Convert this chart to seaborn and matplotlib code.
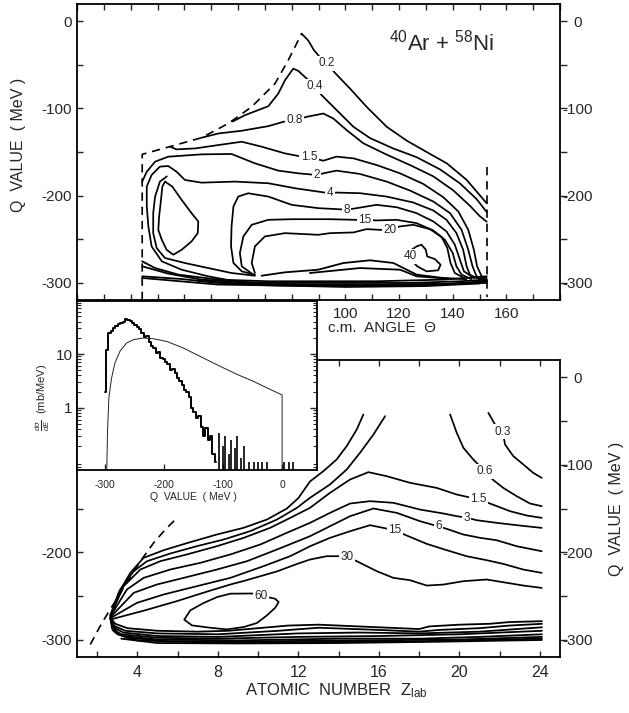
import numpy as np
import pandas as pd
import matplotlib
matplotlib.use("Agg")
import matplotlib.pyplot as plt
import seaborn as sns
from matplotlib.ticker import FixedLocator, FixedFormatter, NullFormatter

# ============ TOP PANEL: c.m. angle theta [deg] vs Q value [MeV] ============
TOP_BOUND_TH = [24.3, 24.3, 35.3, 46.4, 56.4, 65.1, 73.8, 78.7, 83.7]
TOP_BOUND_Q = [-320, -152.7, -143.2, -133.6, -117.2, -98.1, -71.4, -44.7, -14.1]
TOP_LIMIT_TH = [152.7, 152.7]
TOP_LIMIT_Q = [-167, -316]

T02_TH = [83.7, 86.2, 88.3, 90.5, 93.0, 96.1, 101.7, 107.9, 115.4, 122.9, 130.3, 137.8, 145.2, 150.2, 152.7]
T02_Q = [-14, -22, -33, -41, -48, -59, -77, -98, -121, -137, -150, -163, -182, -200, -209]
T04_TH = [58.0, 62.6, 71.3, 75.0, 77.5, 80.6, 82.5, 85.6, 88.7, 91.2, 96.8, 103.0, 109.2, 117.9, 126.6, 135.3, 142.7, 148.9, 152.7]
T04_Q = [-115, -107.7, -97.4, -82.9, -67.6, -54.2, -56.9, -65.7, -74.5, -84.8, -102, -121, -134, -146, -156, -170, -186, -204, -219]
T08_TH = [46.4, 52.7, 61.4, 71.3, 76.9, 81.2, 85.6, 88.7, 91.8, 95.5, 100.5, 106.7, 115.4, 124.1, 132.8, 140.2, 146.5, 150.2, 152.7]
T08_Q = [-133.6, -128.7, -125.6, -120.3, -115.3, -113.4, -109.6, -107.7, -105.8, -111.5, -124.9, -140, -153, -165, -178, -194, -212, -224, -230]
T1P5_TH = [34.7, 37.1, 44.0, 52.7, 61.4, 68.8, 77.5, 82.5, 86.5, 91.8, 96.7, 103.0, 111.6, 120.3, 129.0, 136.5, 142.1, 145.8, 147.9, 149.1, 150.8, 152.7]
T1P5_Q = [-143.9, -147.0, -145.9, -142.0, -138.2, -143.9, -151.6, -154.6, -156.0, -160.0, -155.3, -157.3, -164.9, -174.4, -186.6, -201.9, -218.3, -239.3, -262.2, -281.3, -292.8, -295.0]
T2_TH = [24.3, 26.0, 29.1, 34.0, 46.4, 57.6, 66.3, 75.0, 82.5, 89.3, 91.8, 96.7, 105.4, 115.4, 124.1, 132.8, 139.0, 143.3, 145.8, 147.4, 148.9, 152.7]
T2_Q = [-184.0, -172.6, -161.1, -155.4, -152.7, -152.3, -163.0, -171.4, -174.5, -176.4, -174.5, -171.4, -175.2, -184.0, -194.3, -206.9, -220.2, -239.3, -262.2, -281.3, -292.8, -297.0]
T4_TH = [68.8, 58.9, 48.9, 39.0, 31.6, 27.8, 26.6, 26.0, 26.0, 27.8, 30.9, 34.0, 37.1, 40.2, 46.4, 58.9, 71.3, 81.2, 89.9, 94.3, 96.7, 105.4, 115.4, 125.3, 132.8, 137.7, 141.4, 143.9, 145.2, 146.4, 149.0, 152.7]
T4_Q = [-300.4, -298.5, -292.8, -285.2, -275.6, -258.4, -235.5, -212.6, -189.7, -176.4, -166.8, -166.1, -172.6, -182.1, -185.2, -184.0, -185.9, -191.6, -195.5, -197.4, -196.6, -197.3, -201.2, -208.0, -217.2, -227.9, -243.1, -262.2, -281.3, -290.9, -295.0, -298.0]
T8_TH = [66.3, 61.4, 58.3, 57.4, 57.6, 58.3, 60.1, 63.8, 71.3, 80.0, 89.9, 97.4, 100.5, 104.2, 111.6, 119.1, 126.5, 132.8, 137.7, 140.8, 142.7, 144.2, 148.0]
T8_Q = [-291.0, -287.1, -277.5, -258.4, -235.5, -212.6, -201.2, -197.4, -201.2, -210.7, -214.5, -215.7, -216.4, -214.5, -210.7, -213.4, -220.2, -229.8, -241.2, -256.5, -273.7, -287.0, -295.0]
T15_TH = [65.7, 61.4, 60.7, 62.0, 65.1, 71.3, 80.0, 89.9, 94.3, 103.6, 107.3, 111.6, 119.1, 126.5, 132.8, 137.1, 140.0, 141.4, 143.3, 147.0]
T15_Q = [-290.9, -281.3, -266.0, -247.0, -233.6, -227.9, -227.2, -227.2, -227.2, -227.9, -228.0, -228.6, -227.9, -231.7, -240.1, -250.8, -266.0, -281.3, -290.9, -296.0]
T20_TH = [66.3, 65.1, 66.3, 70.0, 77.5, 89.9, 94.3, 103.0, 107.9, 112.9, 116.6, 120.3, 125.3, 131.5, 135.9, 138.0, 139.2, 140.8, 145.0]
T20_Q = [-289.0, -277.5, -258.4, -247.0, -243.2, -245.1, -243.2, -242.4, -238.6, -239.4, -239.4, -235.5, -233.6, -238.6, -247.7, -260.3, -277.5, -289.0, -296.0]
T40_TH = [124.3, 124.8, 126.6, 128.4, 130.0, 130.5, 133.4, 135.5, 134.6, 130.3, 126.8, 125.2, 124.3]
T40_Q = [-270.0, -262.0, -258.4, -256.5, -262.3, -269.9, -273.0, -279.5, -285.9, -287.1, -281.3, -276.0, -270.0]
TI8_TH = [33.5, 30.9, 29.1, 28.4, 28.4, 29.7, 32.8, 40.2, 48.9, 57.6, 66.3]
TI8_Q = [-178, -184.0, -201.2, -220.3, -243.2, -260.4, -271.8, -277.5, -283.3, -289.0, -292.1]
TI15_TH = [32.8, 35.5, 39.0, 42.7, 45.2, 45.0, 42.7, 39.0, 35.9, 33.4, 31.6, 30.3, 30.6, 31.3, 31.8, 32.8]
TI15_Q = [-184.0, -189.7, -205.0, -220.3, -229.8, -243.2, -252.7, -262.3, -268.0, -262.3, -250.8, -239.4, -224.1, -205.0, -189.7, -184.0]
# lower bundle of contours near the Q = -300 MeV edge
TB0_TH = [68.8, 77.5, 89.9, 99.3, 109.2, 117.9, 122.9, 126.6, 136.5, 145.0]
TB0_Q = [-292.1, -288.2, -285.2, -277.5, -274.4, -277.5, -285.2, -290.9, -294.7, -296.0]
TB1_TH = [24.3, 29.1, 37.8, 52.7, 71.3, 86.8, 111.6, 136.5, 145.2, 152.7]
TB1_Q = [-275.6, -283.3, -290.9, -296.6, -298.5, -298.5, -298.5, -296.6, -294.7, -292.8]
TB2_TH = [24.3, 34.0, 46.4, 65.1, 99.3, 124.1, 142.7, 152.7]
TB2_Q = [-281.3, -289.7, -296.6, -300.4, -300.4, -300.4, -298.5, -296.6]
TB3_TH = [24.3, 39.0, 52.7, 71.3, 111.6, 139.0, 152.7]
TB3_Q = [-292.8, -295.9, -300.4, -302.3, -302.3, -301.2, -298.5]
TB4_TH = [24.3, 52.7, 90.0, 124.1, 152.7]
TB4_Q = [-294.7, -302.3, -304.0, -303.1, -300.4]
TB5_TH = [45.0, 70.0, 100.0, 130.0, 150.0]
TB5_Q = [-298.0, -303.0, -305.0, -304.0, -301.0]
TB6_TH = [86.8, 105.4, 120.4, 126.6, 140.0]
TB6_Q = [-289.0, -283.3, -285.2, -292.8, -296.0]
TB7_TH = [60.0, 85.0, 110.0, 135.0, 150.0]
TB7_Q = [-301.0, -302.5, -303.5, -302.0, -299.5]

TOP_LABEL_TEXT = ["0.2", "0.4", "0.8", "1.5", "2", "4", "8", "15", "20", "40"]
TOP_LABEL_TH = [93.0, 88.7, 81.2, 86.5, 89.3, 94.3, 100.5, 107.3, 116.6, 124.3]
TOP_LABEL_Q = [-48, -74.5, -113.4, -156, -176.4, -197.4, -216.4, -228.0, -239.4, -270]

# ============ BOTTOM PANEL: atomic number Z_lab vs Q value [MeV] ============
BOT_BOUND_Z = [1.66, 2.24, 3.2, 4.15, 4.81, 5.39, 5.89]
BOT_BOUND_Q = [-305.7, -280.9, -245, -210.3, -189.3, -174, -162.6]

B03L_Z = [2.66, 3.07, 3.65, 4.31, 5.31, 6.63, 7.96, 9.28, 10.44, 11.43, 12.0, 12.58, 13.24, 13.90, 14.40, 14.90, 15.23]
B03L_Q = [-272, -246.5, -223.6, -206.5, -197.7, -188.5, -179.7, -172.1, -162.6, -150, -138, -119, -107.3, -93.9, -78.6, -59.6, -42.4]
B06L_Z = [2.66, 3.15, 3.82, 4.48, 5.64, 6.96, 8.29, 9.61, 10.94, 11.93, 12.58, 13.57, 14.40, 15.06, 15.73, 16.31]
B06L_Q = [-272.5, -242.7, -221.7, -210.3, -201.5, -193.1, -185.5, -175.9, -162.6, -149.2, -137.7, -122.5, -105.4, -86.3, -65.3, -44.3]
B03R_Z = [21.44, 21.77, 22.15, 22.27, 22.68, 23.18, 23.67, 24.09]
B03R_Q = [-40.5, -53.8, -62.0, -76.7, -90.1, -99.6, -109.2, -114.9]
B06R_Z = [19.54, 19.87, 20.20, 20.69, 21.27, 21.65, 22.18, 22.85, 23.51, 24.09]
B06R_Q = [-42.4, -63.4, -80.5, -93.9, -107.3, -116.8, -126.4, -135.9, -144.3, -147.3]
B1P5_Z = [2.66, 3.32, 4.15, 5.14, 6.46, 7.96, 9.28, 10.60, 11.60, 12.58, 13.57, 14.57, 15.48, 16.39, 17.55, 18.87, 19.87, 20.94, 21.52, 22.52, 23.34, 24.09]
B1P5_Q = [-273, -238.9, -219.8, -210.3, -202.6, -193.1, -183.6, -172.1, -160.7, -149.2, -132.1, -116.8, -108.4, -113, -120.6, -126.4, -134, -139.5, -144.3, -153.1, -158, -160.7]
B3_Z = [2.66, 3.48, 4.31, 5.64, 7.13, 8.62, 10.11, 11.43, 12.58, 13.57, 14.57, 15.56, 16.72, 18.04, 19.20, 19.87, 20.36, 20.86, 21.85, 22.85, 24.09]
B3_Q = [-273.5, -242.7, -229.4, -219.8, -212.2, -202.6, -191.2, -177.8, -166.4, -155, -144.3, -141.6, -143.5, -151.2, -155.7, -158.8, -160.5, -163.4, -166.4, -169.1, -172.2]
B6_Z = [2.66, 3.82, 4.97, 6.30, 7.96, 9.45, 10.94, 12.58, 13.57, 14.57, 15.73, 16.89, 18.04, 18.96, 19.37, 20.20, 21.03, 21.85, 22.85, 24.09]
B6_Q = [-274.4, -246.5, -237, -229.4, -219.8, -210.3, -196.9, -181.7, -170.3, -158.8, -150, -155, -164.5, -170.5, -173.3, -179.8, -183.6, -186.3, -193.2, -198.9]
B15_Z = [2.66, 3.98, 5.31, 6.96, 8.62, 10.27, 11.60, 12.58, 13.57, 14.57, 15.56, 16.22, 16.80, 17.38, 18.38, 19.37, 20.36, 21.36, 22.18, 23.18, 24.09]
B15_Q = [-275.5, -258, -248.4, -238.9, -229.4, -216, -204.5, -193.2, -183.6, -176, -169.1, -172.2, -175, -180.9, -190.5, -197.7, -204.6, -209.2, -213.4, -219.9, -223.7]
B30_Z = [2.66, 4.31, 5.97, 7.62, 8.62, 9.28, 10.94, 11.93, 12.58, 13.41, 13.99, 14.40, 14.90, 15.90, 16.72, 17.55, 18.38, 19.20, 20.20, 21.36, 22.18, 23.18, 24.09]
B30_Q = [-277.1, -267, -256, -244, -237, -233, -222, -213.5, -208.4, -204.6, -204.6, -205.4, -210.3, -221.8, -229.4, -232.1, -238.2, -237.1, -233.2, -231.3, -234.4, -238.2, -240.9]
B60_Z = [10.14, 9.69, 8.62, 7.96, 7.29, 6.63, 6.33, 6.71, 7.62, 8.45, 9.28, 9.94, 10.44, 10.85, 11.02, 10.85, 10.60, 10.14]
B60_Q = [-249.6, -247.3, -247.5, -251.4, -258.2, -266.6, -277.3, -283.8, -286.5, -288.4, -285.7, -281.1, -272.3, -263.6, -257.1, -253.3, -252.1, -249.6]
# lower bundle near Q = -300 MeV
BB1_Z = [2.66, 2.9, 3.5, 5.0, 7.0, 8.5, 10.0, 11.5, 13.0, 15.0, 17.0, 18.0, 18.5, 20.0, 21.5, 22.5, 24.1]
BB1_Q = [-275, -282, -287, -290, -291, -290, -287, -284, -283, -285, -287, -288, -285, -283, -282, -280, -279]
BB2_Z = [2.66, 2.8, 3.4, 5.0, 8.0, 11.0, 13.0, 16.0, 18.0, 19.0, 21.0, 22.5, 24.1]
BB2_Q = [-275, -284, -290, -293, -294, -290, -286.5, -289, -291, -289, -287, -284, -282]
BB3_Z = [2.66, 2.8, 3.3, 5.0, 8.0, 12.0, 15.0, 18.0, 21.0, 24.1]
BB3_Q = [-275, -286, -292, -296, -297, -293, -292, -293, -291, -286]
BB4_Z = [2.66, 2.75, 3.2, 5.0, 8.0, 12.0, 16.0, 20.0, 24.1]
BB4_Q = [-276, -288, -294, -298, -299, -297, -296, -294, -290]
BB5_Z = [2.7, 2.8, 3.3, 5.0, 9.0, 14.0, 18.0, 21.0, 24.1]
BB5_Q = [-278, -290, -296, -300, -301, -299, -299, -297, -294]
BB6_Z = [2.7, 2.9, 3.5, 5.5, 10.0, 15.0, 20.0, 24.1]
BB6_Q = [-280, -292, -298, -302, -302, -301, -300, -297]
BB7_Z = [2.8, 3.0, 4.0, 7.0, 12.0, 18.0, 24.1]
BB7_Q = [-282, -294, -301, -303, -303, -302, -299]
BB8_Z = [3.2, 5.0, 9.0, 14.0, 19.0, 24.1]
BB8_Q = [-299, -304, -304.5, -304, -302.5, -300.5]

BOT_LABEL_TEXT = ["0.3", "0.6", "1.5", "3", "6", "15", "30", "60"]
BOT_LABEL_Z = [22.15, 21.27, 20.94, 20.36, 18.96, 16.8, 14.4, 10.14]
BOT_LABEL_Q = [-62.0, -107.3, -139.5, -160.5, -170.5, -175.0, -205.4, -249.6]

# ============ INSET: d sigma / dE [mb/MeV] vs Q value [MeV] ============
EXP_Q = [-300, -296, -292, -288, -284, -280, -276, -272, -268, -264, -260, -256, -252, -248, -244, -240,
         -236, -232, -228, -224, -220, -216, -212, -208, -204, -200, -196, -192, -188, -184, -180, -176,
         -172, -168, -164, -160, -156, -152, -148, -144, -140, -136, -132, -128, -124, -120, -116, -112]
EXP_V = [2, 12, 24, 27, 30, 33, 36, 38, 40, 44, 42, 41, 37, 34, 31, 29,
         24, 21, 22, 17, 14, 13, 10.5, 11, 8.6, 8.0, 7.0, 6.4, 5.0, 5.3, 4.4, 3.6,
         3.2, 2.7, 2.2, 2.0, 1.6, 1.0, 0.85, 0.65, 0.7, 0.45, 0.3, 0.42, 0.25, 0.3, 0.14, 0.1]
SPIKE_Q = [-106, -100, -96, -90, -86, -80, -76, -70, -64, -56, -48, -40, -34, -26, 4, 12, 18]
SPIKE_V = [0.35, 0.2, 0.3, 0.14, 0.25, 0.18, 0.3, 0.12, 0.2, 0.1, 0.1, 0.1, 0.1, 0.1, 0.1, 0.1, 0.1]
THEO_Q = [-297, -296, -295.4, -293.1, -288.6, -282.9, -274.4, -263.1, -251.8, -234.8, -217.8, -195.2,
          -166.9, -132.9, -104.6, -76.3, -48.0, -25.4, -2.7, 0, 0]
THEO_V = [0.05, 0.15, 0.37, 1.53, 3.55, 6.8, 11.2, 16, 18.4, 19.8, 19.2, 17.1,
          12.9, 8.4, 5.9, 4.2, 3.1, 2.35, 1.8, 1.75, 0.05]

# ---------------------------------------------------------------------------
sns.set_theme(style="white", context="paper")
plt.rcParams['font.family'] = ['Liberation Sans', 'DejaVu Sans']
plt.rcParams['axes.unicode_minus'] = False
plt.rcParams['mathtext.fontset'] = 'custom'
plt.rcParams['mathtext.rm'] = 'Liberation Sans'
plt.rcParams['mathtext.it'] = 'Liberation Sans:italic'
plt.rcParams['mathtext.bf'] = 'Liberation Sans:bold'

W, H = 629, 713
fig = plt.figure(figsize=(W / 100, H / 100), dpi=100)


def frac(x0, y0, x1, y1):
    return [x0 / W, 1 - y1 / H, (x1 - x0) / W, (y1 - y0) / H]


def draw(ax, segs, lw=1.2, ls="-", color="black"):
    frames = []
    for i, (xs, ys) in enumerate(segs):
        frames.append(pd.DataFrame({"x": xs, "y": ys, "seg": i}))
    df = pd.concat(frames, ignore_index=True)
    sns.lineplot(data=df, x="x", y="y", units="seg", estimator=None, sort=False,
                 ax=ax, color=color, lw=lw, linestyle=ls, legend=False)
    ax.set_xlabel("")
    ax.set_ylabel("")


def clabels(ax, texts, xs, ys):
    for t, x, y in zip(texts, xs, ys):
        ax.text(x, y, t, ha="center", va="center", fontsize=8.5, zorder=6,
                bbox=dict(boxstyle="square,pad=0.12", fc="white", ec="none"))


def right_axis(ax, ylim, ticks, minor):
    r = ax.twinx()
    r.set_ylim(*ylim)
    r.yaxis.set_major_locator(FixedLocator(ticks))
    r.yaxis.set_major_formatter(FixedFormatter([str(int(t)) for t in ticks]))
    r.yaxis.set_minor_locator(FixedLocator(minor))
    r.tick_params(axis="y", which="both", direction="out", length=5, width=1.0,
                  labelsize=11, pad=7.5, right=True, left=False)
    for s in r.spines.values():
        s.set_visible(False)
    for lbl in r.get_yticklabels():
        lbl.set_horizontalalignment("center")
    return r


SPW = 1.3
# ---------------- top panel ----------------
ax1 = fig.add_axes(frac(77, 4, 560, 300))
draw(ax1, [(TOP_BOUND_TH, TOP_BOUND_Q), (TOP_LIMIT_TH, TOP_LIMIT_Q)], lw=1.2, ls=(0, (5, 3.5)))
draw(ax1, [(T02_TH, T02_Q), (T04_TH, T04_Q), (T08_TH, T08_Q), (T1P5_TH, T1P5_Q), (T2_TH, T2_Q),
           (T4_TH, T4_Q), (T8_TH, T8_Q), (T15_TH, T15_Q), (T20_TH, T20_Q), (T40_TH, T40_Q),
           (TI8_TH, TI8_Q), (TI15_TH, TI15_Q)], lw=1.25)
draw(ax1, [(TB0_TH, TB0_Q), (TB1_TH, TB1_Q), (TB2_TH, TB2_Q), (TB3_TH, TB3_Q),
           (TB4_TH, TB4_Q), (TB5_TH, TB5_Q), (TB6_TH, TB6_Q), (TB7_TH, TB7_Q)], lw=1.3)
clabels(ax1, TOP_LABEL_TEXT, TOP_LABEL_TH, TOP_LABEL_Q)
ax1.set_xlim(0, 180)
ax1.set_ylim(-320, 20)
xt = list(range(0, 181, 10))
ax1.xaxis.set_major_locator(FixedLocator(xt))
ax1.xaxis.set_major_formatter(FixedFormatter([str(v) if v in (100, 120, 140, 160) else "" for v in xt]))
ax1.tick_params(axis="x", which="both", direction="in", top=True, bottom=True, length=4, width=1.0,
                labelsize=11, pad=5)
ax1.yaxis.set_major_locator(FixedLocator([-300, -200, -100, 0]))
ax1.yaxis.set_major_formatter(FixedFormatter(["-300", "-200", "-100", "0"]))
ax1.yaxis.set_minor_locator(FixedLocator([-250, -150, -50]))
ax1.tick_params(axis="y", which="both", direction="in", left=True, right=False, length=4, width=1.0,
                labelsize=11, pad=4)
for s in ax1.spines.values():
    s.set_linewidth(SPW)
    s.set_color("black")
ax1.text(0.755, 0.87, r"$^{40}$Ar + $^{58}$Ni", transform=ax1.transAxes, fontsize=16,
         ha="center", va="center")
right_axis(ax1, (-320, 20), [-300, -200, -100, 0], [-250, -150, -50])

# ---------------- bottom panel ----------------
ax2 = fig.add_axes(frac(77, 360, 560, 657))
draw(ax2, [(BOT_BOUND_Z, BOT_BOUND_Q)], lw=1.2, ls=(0, (5, 3.5)))
draw(ax2, [(B03L_Z, B03L_Q), (B06L_Z, B06L_Q), (B03R_Z, B03R_Q), (B06R_Z, B06R_Q),
           (B1P5_Z, B1P5_Q), (B3_Z, B3_Q), (B6_Z, B6_Q), (B15_Z, B15_Q), (B30_Z, B30_Q),
           (B60_Z, B60_Q)], lw=1.25)
draw(ax2, [(BB1_Z, BB1_Q), (BB2_Z, BB2_Q), (BB3_Z, BB3_Q), (BB4_Z, BB4_Q),
           (BB5_Z, BB5_Q), (BB6_Z, BB6_Q), (BB7_Z, BB7_Q), (BB8_Z, BB8_Q)], lw=1.3)
clabels(ax2, BOT_LABEL_TEXT, BOT_LABEL_Z, BOT_LABEL_Q)
ax2.set_xlim(1, 25)
ax2.set_ylim(-320, 20)
zt = list(range(2, 25, 2))
ax2.xaxis.set_major_locator(FixedLocator(zt))
ax2.xaxis.set_major_formatter(FixedFormatter([str(v) if v % 4 == 0 else "" for v in zt]))
ax2.tick_params(axis="x", which="both", direction="in", top=True, bottom=True, length=4, width=1.0,
                labelsize=11.5, pad=6)
ax2.yaxis.set_major_locator(FixedLocator([-300, -200, -100, 0]))
ax2.yaxis.set_major_formatter(FixedFormatter(["-300", "-200", "", ""]))
ax2.yaxis.set_minor_locator(FixedLocator([-250, -150, -50]))
ax2.tick_params(axis="y", which="both", direction="in", left=True, right=False, length=4, width=1.0,
                labelsize=11, pad=4)
for s in ax2.spines.values():
    s.set_linewidth(SPW)
    s.set_color("black")
right_axis(ax2, (-320, 20), [-300, -200, -100, 0], [-250, -150, -50])

# ---------------- inset ----------------
ax3 = fig.add_axes(frac(77, 301, 317, 470))
ax3.set_facecolor("white")
ax3.set_yscale("log")
ax3.set_xlim(-347, 59)
ax3.set_ylim(0.071, 96)
exp_df = pd.DataFrame({"q": EXP_Q, "v": EXP_V})
sns.lineplot(data=exp_df, x="q", y="v", ax=ax3, color="black", lw=1.4, drawstyle="steps-mid",
             estimator=None, sort=False)
ax3.vlines(SPIKE_Q, 0.071, SPIKE_V, color="black", lw=1.2)
theo_df = pd.DataFrame({"q": THEO_Q, "v": THEO_V})
sns.lineplot(data=theo_df, x="q", y="v", ax=ax3, color="#222222", lw=0.7, estimator=None, sort=False)
ax3.set_xlabel("")
ax3.set_ylabel("")
ax3.xaxis.set_major_locator(FixedLocator([-300, -200, -100, 0]))
ax3.xaxis.set_major_formatter(FixedFormatter(["-300", "-200", "-100", "0"]))
ax3.xaxis.set_minor_locator(FixedLocator([]))
ax3.tick_params(axis="x", which="both", direction="in", bottom=True, top=False, length=4, width=1.0,
                labelsize=7.5, pad=7)
ax3.yaxis.set_major_locator(FixedLocator([1, 10]))
ax3.yaxis.set_major_formatter(FixedFormatter(["1", "10"]))
minors = [0.08, 0.09] + [m * d for d in (0.1, 1, 10) for m in range(2, 10)]
ax3.yaxis.set_minor_locator(FixedLocator(minors))
ax3.yaxis.set_minor_formatter(NullFormatter())
ax3.tick_params(axis="y", which="major", direction="in", left=True, right=True, length=5, width=1.0,
                labelsize=11, pad=3)
ax3.tick_params(axis="y", which="minor", direction="in", left=True, right=True, length=3, width=0.8)
for s in ax3.spines.values():
    s.set_linewidth(SPW)
    s.set_color("black")

# ---------------- axis titles ----------------
fig.text(19 / W, 1 - 145 / H, "Q  VALUE  ( MeV )", rotation=90, ha="center", va="center", fontsize=11.5)
fig.text(617 / W, 1 - 509 / H, "Q  VALUE  ( MeV )", rotation=90, ha="center", va="center", fontsize=11.5)
fig.text(382 / W, 1 - 328 / H, "c.m.  ANGLE  Θ", ha="center", va="center", fontsize=11)
fig.text(336 / W, 1 - 691 / H, r"ATOMIC  NUMBER  Z$_{\rm lab}$", ha="center", va="center", fontsize=12)
fig.text(193 / W, 1 - 497 / H, "Q  VALUE  ( MeV )", ha="center", va="center", fontsize=7.5)
fig.text(43 / W, 1 - 397 / H, r"$\frac{d\sigma}{dE}$  (mb/MeV)", rotation=90, ha="center", va="center",
         fontsize=8)

fig.savefig("out.png", dpi=100)
